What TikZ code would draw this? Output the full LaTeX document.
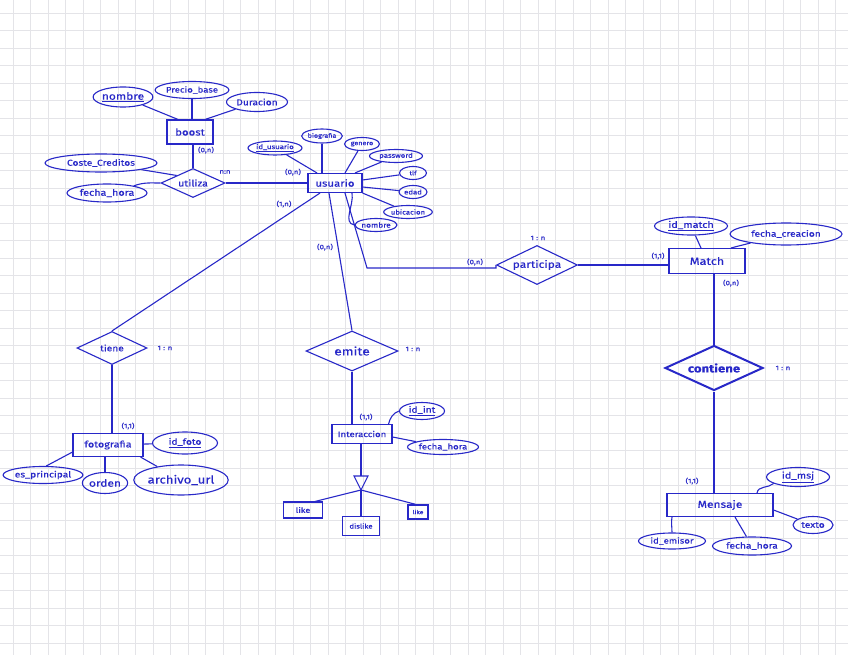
\documentclass[tikz,border=0pt]{standalone}
\usepackage{fontspec}
\setmainfont{Fira Sans}[FakeStretch=1.2,FakeBold=0.4]
\usetikzlibrary{shapes.geometric}
\definecolor{inkc}{RGB}{40,40,200}
\definecolor{gridc}{RGB}{228,228,232}
\newcommand\hsz[1]{\fontsize{#1}{#1}\selectfont}
\tikzset{
  ink/.style={draw=inkc, line width=1.1pt},
  ent/.style={ink, rectangle, inner sep=0pt, text=inkc},
  att/.style={ink, ellipse, inner sep=0pt, text=inkc},
  rel/.style={ink, diamond, inner sep=0pt, text=inkc, aspect=2.2},
  lab/.style={text=inkc, inner sep=0pt, font=\hsz{6.5}},
  conn/.style={draw=inkc, line width=1.1pt},
  gridline/.style={draw=gridc, line width=0.9pt}
}
\begin{document}
\begin{tikzpicture}[x=1pt,y=-1pt]
\fill[white] (0,0) rectangle (848,655);
\useasboundingbox (0,0) rectangle (848,655);
\foreach \i in {0,...,47} \draw[gridline] (13+17.5*\i,0) -- (13+17.5*\i,655);
\foreach \j in {0,...,36} \draw[gridline] (0,13+17.5*\j) -- (848,13+17.5*\j);

% ---- boost cluster
\node[ent, minimum width=46pt, minimum height=24pt, font=\hsz{9.5}] (boost) at (190,132) {boost};
\node[att, minimum width=57pt, minimum height=20pt, font=\hsz{10}] (nombreB) at (123,97) {\underline{nombre}};
\node[att, minimum width=70pt, minimum height=17pt, font=\hsz{8}] (precio) at (192,90) {Precio\_base};
\node[att, minimum width=61pt, minimum height=19pt, font=\hsz{8.5}] (duracion) at (257,102) {Duracion};
\node[rel, minimum width=64pt, minimum height=29pt, font=\hsz{9}] (utiliza) at (193,183) {utiliza};
\node[att, minimum width=112pt, minimum height=18pt, font=\hsz{8.5}] (coste) at (101,163) {Coste\_Creditos};
\node[att, minimum width=80pt, minimum height=18pt, font=\hsz{9}] (fechaU) at (107,193) {fecha\_hora};

% ---- usuario cluster
\node[ent, minimum width=54pt, minimum height=19pt, font=\hsz{9.5}] (usuario) at (335,183) {usuario};
\node[att, minimum width=54pt, minimum height=14pt, font=\hsz{6.5}] (idusuario) at (275,148) {\underline{id\_usuario}};
\node[att, minimum width=40pt, minimum height=14pt, font=\hsz{6}] (biografia) at (322,136) {biografia};
\node[att, minimum width=35pt, minimum height=13pt, font=\hsz{6}] (genero) at (362,144) {genero};
\node[att, minimum width=53pt, minimum height=13pt, font=\hsz{6.5}] (password) at (396,156) {password};
\node[att, minimum width=27pt, minimum height=13pt, font=\hsz{6}] (tlf) at (413,173) {tlf};
\node[att, minimum width=28pt, minimum height=13pt, font=\hsz{6.5}] (edad) at (413,192) {edad};
\node[att, minimum width=45pt, minimum height=13pt, font=\hsz{6.5}] (ubicacion) at (408,212) {ubicacion};
\node[att, minimum width=42pt, minimum height=13pt, font=\hsz{7}] (nombreU) at (376,225) {nombre};

% ---- participa / Match
\node[rel, aspect=2.1, minimum width=81pt, minimum height=39pt, font=\hsz{10}] (participa) at (537,265) {participa};
\node[ent, minimum width=76pt, minimum height=25pt, font=\hsz{10.5}] (match) at (707,261) {Match};
\node[att, minimum width=73pt, minimum height=18pt, font=\hsz{9}] (idmatch) at (691,226) {\underline{id\_match}};
\node[att, minimum width=112pt, minimum height=22pt, font=\hsz{8.5}] (fechacre) at (786,234) {fecha\_creacion};

% ---- contiene / Mensaje
\node[rel, line width=2pt, minimum width=98pt, minimum height=45pt, font=\hsz{11}\bfseries] (contiene) at (714,368) {contiene};
\node[ent, minimum width=106pt, minimum height=23pt, font=\hsz{10}] (mensaje) at (720,505) {Mensaje};
\node[att, minimum width=63pt, minimum height=19pt, font=\hsz{9}] (idmsj) at (798,477) {\underline{id\_msj}};
\node[att, minimum width=40pt, minimum height=17pt, font=\hsz{8.5}] (texto) at (813,525) {texto};
\node[att, minimum width=67pt, minimum height=16pt, font=\hsz{8}] (idemisor) at (672,541) {id\_emisor};
\node[att, minimum width=79pt, minimum height=18pt, font=\hsz{8.5}] (fechaM) at (752,546) {fecha\_hora};

% ---- tiene / fotografia
\node[rel, aspect=2.1, minimum width=70pt, minimum height=33pt, font=\hsz{8.5}] (tiene) at (112,348) {tiene};
\node[ent, minimum width=70pt, minimum height=23pt, font=\hsz{9}] (fotografia) at (108,445) {fotografia};
\node[att, minimum width=65pt, minimum height=22pt, font=\hsz{8.5}] (idfoto) at (185,443) {\underline{id\_foto}};
\node[att, minimum width=77pt, minimum height=17pt, font=\hsz{8.5}] (esprincipal) at (43,475) {es\_principal};
\node[att, minimum width=45pt, minimum height=21pt, font=\hsz{10}] (orden) at (105,483) {orden};
\node[att, minimum width=92pt, minimum height=30pt, font=\hsz{11}] (archivo) at (181,480) {archivo\_url};

% ---- emite / Interaccion
\node[rel, aspect=2.3, minimum width=92pt, minimum height=40pt, font=\hsz{11.5}] (emite) at (352,351) {emite};
\node[ent, minimum width=60pt, minimum height=19pt, font=\hsz{8}] (interaccion) at (362,434) {Interaccion};
\node[att, minimum width=45pt, minimum height=17pt, font=\hsz{8.5}] (idint) at (422,411) {\underline{id\_int}};
\node[att, minimum width=71pt, minimum height=15pt, font=\hsz{8}] (fechaI) at (443,447) {fecha\_hora};
\node[ent, minimum width=39pt, minimum height=16pt, font=\hsz{7.5}] (like1) at (303,510) {like};
\node[ent, minimum width=37pt, minimum height=19pt, font=\hsz{6.5}] (dislike) at (361,526) {dislike};
\node[ent, minimum width=20pt, minimum height=14pt, font=\hsz{5.5}] (like2) at (418,512) {like};
\coordinate (isaL) at (354,476);
\coordinate (isaR) at (368,476);
\coordinate (isa) at (361,490);
\coordinate (isatop) at (361,476);
\draw[conn] (isaL) -- (isaR) -- (isa) -- cycle;

% ---- connectors
\draw[conn] (nombreB) -- ([xshift=-12pt]boost.north);
\draw[conn] (precio.south) -- (precio.south |- boost.north);
\draw[conn] (duracion) -- ([xshift=15pt]boost.north);
\draw[conn] (utiliza.north) -- (utiliza.north |- boost.south);
\draw[conn] (coste) -- (utiliza.north west);
\draw[conn] (fechaU.15) to[out=20,in=180] (utiliza.west);
\draw[conn] (utiliza.east) -- (usuario.west);

\draw[conn] (idusuario) -- ([xshift=-18pt]usuario.north);
\draw[conn] (biografia.south) -- (biografia.south |- usuario.north);
\draw[conn] (genero) -- ([xshift=10pt]usuario.north);
\draw[conn] (password) -- ([xshift=20pt]usuario.north);
\draw[conn] (tlf) -- ([yshift=3pt]usuario.east);
\draw[conn] (edad) -- ([yshift=-4pt]usuario.east);
\draw[conn] (ubicacion) -- (usuario.south east);
\draw[conn] ([xshift=17pt]usuario.south) to[out=-80,in=170] (nombreU.west);

\draw[conn] ([xshift=-15pt]usuario.south) -- (tiene.north);
\draw[conn] ([xshift=-6pt]usuario.south) -- (emite.north);
\coordinate (pcorner) at (367,268);
\draw[conn] ([xshift=10pt]usuario.south) -- (pcorner) -- (pcorner -| participa.west) -- (participa.west);

\draw[conn] (participa.east) -- (participa.east -| match.west);
\draw[conn] (idmatch) -- ([xshift=-6pt]match.north);
\draw[conn] (fechacre) -- ([xshift=24pt]match.north);
\draw[conn] (contiene.north |- match.south) -- (contiene.north);
\draw[conn] (contiene.south) -- (contiene.south |- mensaje.north);

\draw[conn] (idmsj.195) to[out=220,in=80] ([xshift=37pt]mensaje.north);
\draw[conn] (texto) -- ([yshift=-5pt]mensaje.east);
\draw[conn] (idemisor.north) to[out=90,in=-100] ([xshift=-48pt]mensaje.south);
\draw[conn] (fechaM) -- ([xshift=15pt]mensaje.south);

\draw[conn] (tiene.south) -- (tiene.south |- fotografia.north);
\draw[conn] (fotografia) -- (idfoto);
\draw[conn] (esprincipal.70) -- ([yshift=5pt]fotografia.south west);
\draw[conn] (orden.north) -- (orden.north |- fotografia.south);
\draw[conn] (archivo) -- ([xshift=-3pt]fotografia.south east);

\draw[conn] (emite.south) -- (emite.south |- interaccion.north);
\draw[conn] (idint.west) to[out=200,in=75] ([xshift=-4pt]interaccion.north east);
\draw[conn] (fechaI) -- ([yshift=-3pt]interaccion.east);
\draw[conn] (isatop |- interaccion.south) -- (isatop);
\draw[conn] (isa) -- ([xshift=12pt]like1.north);
\draw[conn] (isa) -- (dislike.north);
\draw[conn] (isa) -- ([xshift=-2pt]like2.north);

% ---- cardinality labels
\node[lab] (c1) at (206,150) {(0,n)};
\node[lab] (c2) at (225,172) {n:n};
\node[lab] (c3) at (293,172) {(0,n)};
\node[lab] (c4) at (284,204) {(1,n)};
\node[lab] (c5) at (325,247) {(0,n)};
\node[lab] (c6) at (475,262) {(0,n)};
\node[lab] (c7) at (538,238) {1 : n};
\node[lab] (c8) at (658,256) {(1,1)};
\node[lab] (c9) at (731,283) {(0,n)};
\node[lab] (c10) at (783,368) {1 : n};
\node[lab] (c11) at (692,481) {(1,1)};
\node[lab] (c12) at (165,348) {1 : n};
\node[lab] (c13) at (128,426) {(1,1)};
\node[lab] (c14) at (413,349) {1 : n};
\node[lab] (c15) at (366,417) {(1,1)};
\end{tikzpicture}
\end{document}
